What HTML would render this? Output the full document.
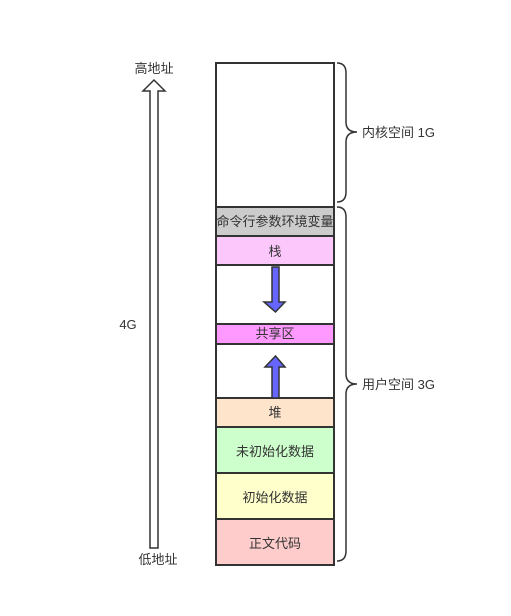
<!DOCTYPE html>
<html><head><meta charset="utf-8"><style>
body{margin:0;background:#fff}
svg text{font-family:"Liberation Sans","Noto Sans CJK SC",sans-serif;font-size:13px;fill:#333}
</style></head><body>
<svg width="511" height="611" viewBox="0 0 511 611" xmlns="http://www.w3.org/2000/svg">
<g stroke="#333" stroke-width="2">
<rect x="216" y="63" width="118" height="144" fill="#fff"/>
<rect x="216" y="207" width="118" height="29" fill="#ccc"/>
<rect x="216" y="236" width="118" height="29" fill="#fcc8fc"/>
<rect x="216" y="265" width="118" height="59" fill="#fff"/>
<rect x="216" y="324" width="118" height="20" fill="#ff99ff"/>
<rect x="216" y="344" width="118" height="54" fill="#fff"/>
<rect x="216" y="398" width="118" height="29" fill="#ffe4cc"/>
<rect x="216" y="427" width="118" height="46" fill="#ccffcc"/>
<rect x="216" y="473" width="118" height="46" fill="#ffffcc"/>
<rect x="216" y="519" width="118" height="46" fill="#ffcccc"/>
</g>
<path d="M150 548 L150 91 L143 91 L154 80 L165 91 L158 91 L158 548 Z" fill="#fff" stroke="#333" stroke-width="1.5"/>
<path d="M272 267 L279 267 L279 302 L285 302 L275.5 312 L264 302 L272 302 Z" fill="#6666ff" stroke="#333" stroke-width="1.5"/>
<path d="M272 398 L272 367 L265 367 L275.5 356 L285 367 L279 367 L279 398 Z" fill="#6666ff" stroke="#333" stroke-width="1.5"/>
<g fill="none" stroke="#333" stroke-width="1.5">
<path d="M337 63 Q346 63 346 73 L346 122 Q346 132 357 132 Q346 132 346 142 L346 192 Q346 202 337 202"/>
<path d="M337 207 Q346 207 346 217 L346 374 Q346 384 357 384 Q346 384 346 394 L346 551 Q346 561 337 561"/>
</g>
<text x="154" y="73" text-anchor="middle">高地址</text>
<text x="158" y="564" text-anchor="middle">低地址</text>
<text x="128" y="329" text-anchor="middle">4G</text>
<text x="362" y="137">内核空间 1G</text>
<text x="362" y="389">用户空间 3G</text>
<text x="275" y="226" text-anchor="middle">命令行参数环境变量</text>
<text x="275" y="256" text-anchor="middle">栈</text>
<text x="275" y="338" text-anchor="middle">共享区</text>
<text x="275" y="417" text-anchor="middle">堆</text>
<text x="275" y="456" text-anchor="middle">未初始化数据</text>
<text x="275" y="502" text-anchor="middle">初始化数据</text>
<text x="275" y="548" text-anchor="middle">正文代码</text>
</svg>
</body></html>
